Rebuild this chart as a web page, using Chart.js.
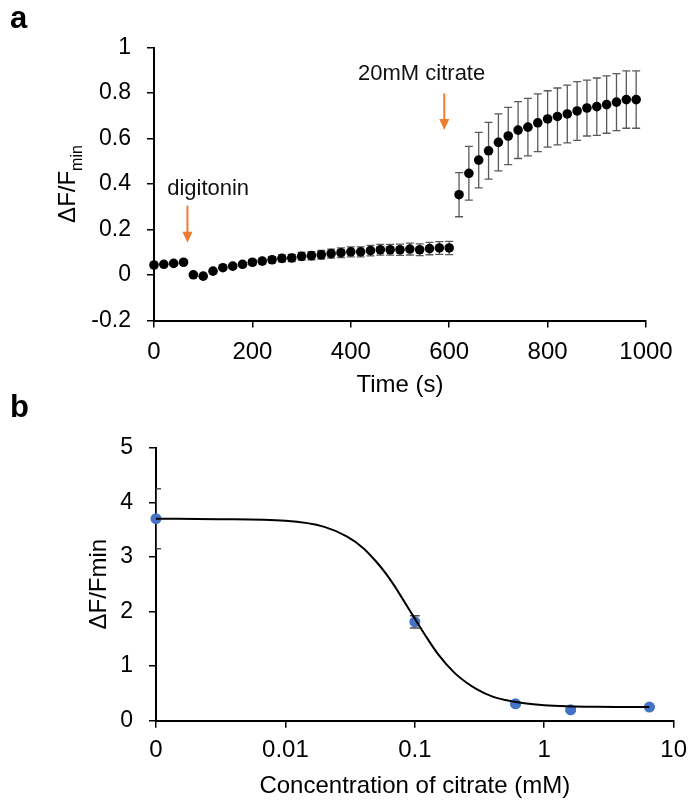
<!DOCTYPE html>
<html>
<head>
<meta charset="utf-8">
<script src="https://cdn.jsdelivr.net/npm/chart.js@4.4.0/dist/chart.umd.min.js"></script>
<style>
html, body { margin: 0; padding: 0; background: #fff; }
#wrap { position: relative; width: 695px; height: 805px; }
canvas { position: absolute; left: 0; }
#chartA { top: 0; }
#chartB { top: 380px; }
</style>
</head>
<body>
<div id="wrap">
<canvas id="chartA" width="695" height="400"></canvas>
<canvas id="chartB" width="695" height="425"></canvas>
</div>
<script>
// panel a - time course
var timeA = [0, 20, 40, 60, 80, 100, 120, 140, 160, 180, 200, 220, 240, 260, 280, 300, 320, 340, 360, 380,
    400, 420, 440, 460, 480, 500, 520, 540, 560, 580, 600,
    620, 640, 660, 680, 700, 720, 740, 760, 780, 800, 820, 840, 860, 880, 900, 920, 940, 960, 980];
var ratioA = [0.044, 0.047, 0.051, 0.056, 0.001, -0.005, 0.017, 0.032, 0.039, 0.047, 0.056, 0.061, 0.067, 0.073, 0.075, 0.082, 0.085, 0.089, 0.094, 0.098,
    0.102, 0.102, 0.107, 0.111, 0.111, 0.111, 0.114, 0.111, 0.116, 0.119, 0.119,
    0.353, 0.447, 0.505, 0.546, 0.583, 0.611, 0.637, 0.650, 0.669, 0.686, 0.697, 0.708, 0.721, 0.734, 0.740, 0.749, 0.760, 0.771, 0.771];
var errA = [0.005, 0.005, 0.005, 0.006, 0.006, 0.006, 0.007, 0.008, 0.009, 0.010, 0.011, 0.012, 0.013, 0.015, 0.016, 0.017, 0.018, 0.019, 0.020, 0.021,
    0.022, 0.022, 0.023, 0.024, 0.024, 0.025, 0.026, 0.026, 0.027, 0.028, 0.029,
    0.097, 0.118, 0.122, 0.125, 0.125, 0.126, 0.125, 0.126, 0.127, 0.124, 0.125, 0.127, 0.129, 0.123, 0.126, 0.126, 0.125, 0.126, 0.126];
var timeTicksA = [0, 200, 400, 600, 800, 1000];
var ratioTicksA = [-0.2, 0, 0.2, 0.4, 0.6, 0.8, 1];

// panel b - dose response
var concB = [0.001, 0.1, 0.6, 1.6, 6.5];
var ratioB = [3.70, 1.81, 0.31, 0.20, 0.25];
var errB = [0.55, 0.11, 0.03, 0.03, 0.02];
var fitConcB = [0.001, 0.003, 0.01, 0.02, 0.03, 0.04, 0.05, 0.06, 0.07, 0.08, 0.1, 0.12, 0.15, 0.2, 0.25, 0.3, 0.4, 0.5, 0.7, 1, 1.5, 2.5, 4, 6.5];
var fitRatioB = [3.70, 3.69, 3.66, 3.55, 3.37, 3.16, 2.92, 2.69, 2.46, 2.24, 1.87, 1.57, 1.23, 0.89, 0.70, 0.58, 0.44, 0.38, 0.32, 0.284, 0.265, 0.255, 0.252, 0.25];
var concTicksB = [0.001, 0.01, 0.1, 1, 10];
var concTickLabelsB = ['0', '0.01', '0.1', '1', '10'];
var ratioTicksB = [0, 1, 2, 3, 4, 5];

// arrows on panel a, in data coordinates
var arrowNotes = [
    { text: 'digitonin', x: 68, from: 0.305, to: 0.142, labelX: 110, labelY: 0.352 },
    { text: '20mM citrate', x: 590, from: 0.798, to: 0.637, labelX: 544, labelY: 0.857 }
];

var FONT = '"Liberation Sans", Arial, sans-serif';
Chart.defaults.font.family = FONT;
Chart.defaults.color = '#000';

function toPoints(xs, ys) {
    return xs.map(function (x, i) { return { x: x, y: ys[i] }; });
}
function fixedTicks(values) {
    return function (scale) {
        scale.ticks = values.map(function (v) { return { value: v }; });
    };
}

var errorBarPlugin = {
    id: 'errorBars',
    beforeDatasetsDraw: function (chart, args, opts) {
        var ctx = chart.ctx, yScale = chart.scales.y, area = chart.chartArea;
        chart.data.datasets.forEach(function (ds, i) {
            if (!ds.errors) return;
            var meta = chart.getDatasetMeta(i);
            ctx.save();
            if (opts.clip) {
                ctx.beginPath();
                ctx.rect(area.left, area.top, area.right - area.left, area.bottom - area.top);
                ctx.clip();
            }
            ctx.strokeStyle = opts.color;
            ctx.lineWidth = opts.width;
            meta.data.forEach(function (pt, j) {
                var v = ds.data[j].y, e = ds.errors[j];
                var y1 = yScale.getPixelForValue(v + e), y2 = yScale.getPixelForValue(v - e);
                ctx.beginPath();
                ctx.moveTo(pt.x, y1); ctx.lineTo(pt.x, y2);
                ctx.moveTo(pt.x - opts.cap, y1); ctx.lineTo(pt.x + opts.cap, y1);
                ctx.moveTo(pt.x - opts.cap, y2); ctx.lineTo(pt.x + opts.cap, y2);
                ctx.stroke();
            });
            ctx.restore();
        });
    }
};

var panelTagPlugin = {
    id: 'panelTag',
    afterDraw: function (chart, args, opts) {
        var ctx = chart.ctx;
        ctx.save();
        ctx.font = 'bold 31px ' + FONT;
        ctx.fillStyle = '#000';
        ctx.textBaseline = 'alphabetic';
        ctx.fillText(opts.text, 10, opts.y);
        ctx.restore();
    }
};

var notesPlugin = {
    id: 'notes',
    afterDatasetsDraw: function (chart) {
        var ctx = chart.ctx, xs = chart.scales.x, ys = chart.scales.y, area = chart.chartArea;
        ctx.save();
        arrowNotes.forEach(function (n) {
            var x = xs.getPixelForValue(n.x);
            var y1 = ys.getPixelForValue(n.from), y2 = ys.getPixelForValue(n.to);
            ctx.strokeStyle = '#ED7D31';
            ctx.fillStyle = '#ED7D31';
            ctx.lineWidth = 2;
            ctx.beginPath();
            ctx.moveTo(x, y1); ctx.lineTo(x, y2 - 10);
            ctx.stroke();
            ctx.beginPath();
            ctx.moveTo(x - 5, y2 - 11); ctx.lineTo(x + 5, y2 - 11); ctx.lineTo(x, y2);
            ctx.closePath();
            ctx.fill();
            ctx.fillStyle = '#111';
            ctx.font = '22px ' + FONT;
            ctx.textAlign = 'center';
            ctx.textBaseline = 'alphabetic';
            ctx.fillText(n.text, xs.getPixelForValue(n.labelX), ys.getPixelForValue(n.labelY));
        });
        // y axis title with subscript
        ctx.fillStyle = '#000';
        ctx.translate(area.left - 79, (area.top + area.bottom) / 2);
        ctx.rotate(-Math.PI / 2);
        ctx.textAlign = 'left';
        ctx.textBaseline = 'alphabetic';
        ctx.font = '24px ' + FONT;
        var w1 = ctx.measureText('ΔF/F').width;
        ctx.font = '16px ' + FONT;
        var w2 = ctx.measureText('min').width;
        var start = -(w1 + w2) / 2;
        ctx.font = '24px ' + FONT;
        ctx.fillText('ΔF/F', start, 0);
        ctx.font = '16px ' + FONT;
        ctx.fillText('min', start + w1, 7);
        ctx.restore();
    }
};

var axisGrid = { drawOnChartArea: false, drawTicks: true, tickLength: 7, color: '#000', lineWidth: 1.5 };
var axisBorder = { display: true, color: '#000', width: 2 };

new Chart(document.getElementById('chartA'), {
    type: 'scatter',
    data: {
        datasets: [{
            data: toPoints(timeA, ratioA),
            errors: errA,
            backgroundColor: '#000',
            borderWidth: 0,
            pointRadius: 4.8,
            clip: false
        }]
    },
    options: {
        responsive: false,
        animation: false,
        layout: { padding: { left: 0, top: 47.5, right: 49, bottom: 0 } },
        plugins: {
            legend: { display: false },
            tooltip: { enabled: false },
            errorBars: { color: '#595959', width: 1.3, cap: 4, clip: false },
            panelTag: { text: 'a', y: 28 }
        },
        scales: {
            x: {
                type: 'linear', min: 0, max: 1000,
                afterBuildTicks: fixedTicks(timeTicksA),
                afterFit: function (s) { s.height = 79.5; },
                grid: axisGrid, border: axisBorder,
                ticks: { font: { size: 24 }, padding: 10, maxRotation: 0,
                    callback: function (v) { return String(v); } },
                title: { display: true, text: 'Time (s)', font: { size: 24 }, padding: { top: 0, bottom: 0 } }
            },
            y: {
                type: 'linear', min: -0.2, max: 1,
                afterBuildTicks: fixedTicks(ratioTicksA),
                afterFit: function (s) { s.width = 154; },
                grid: axisGrid, border: axisBorder,
                ticks: { font: { size: 23 }, padding: 16, callback: function (v) { return String(Math.round(v * 10) / 10); } }
            }
        }
    },
    plugins: [errorBarPlugin, notesPlugin, panelTagPlugin]
});

new Chart(document.getElementById('chartB'), {
    type: 'scatter',
    data: {
        datasets: [{
            type: 'line',
            data: toPoints(fitConcB, fitRatioB),
            borderColor: '#000',
            borderWidth: 2,
            pointRadius: 0,
            fill: false,
            cubicInterpolationMode: 'monotone'
        }, {
            data: toPoints(concB, ratioB),
            errors: errB,
            backgroundColor: '#4472C4',
            borderWidth: 0,
            pointRadius: 5.5,
            clip: false
        }]
    },
    options: {
        responsive: false,
        animation: false,
        layout: { padding: { left: 0, top: 67.7, right: 19.3, bottom: 0 } },
        plugins: {
            legend: { display: false },
            tooltip: { enabled: false },
            errorBars: { color: '#4d4d4d', width: 1.5, cap: 5, clip: true },
            panelTag: { text: 'b', y: 36.5 }
        },
        scales: {
            x: {
                type: 'logarithmic', min: 0.001, max: 10,
                afterBuildTicks: fixedTicks(concTicksB),
                afterFit: function (s) { s.height = 84.3; },
                grid: axisGrid, border: axisBorder,
                ticks: { font: { size: 24 }, padding: 8, maxRotation: 0, autoSkip: false,
                    callback: function (v, i) { return concTickLabelsB[i]; } },
                title: { display: true, text: 'Concentration of citrate (mM)', font: { size: 24 }, padding: { top: 0, bottom: 4 } }
            },
            y: {
                type: 'linear', min: 0, max: 5,
                afterBuildTicks: fixedTicks(ratioTicksB),
                afterFit: function (s) { s.width = 156; },
                grid: axisGrid, border: axisBorder,
                ticks: { font: { size: 23 }, padding: 16 },
                title: { display: true, text: 'ΔF/Fmin', font: { size: 24 }, padding: { top: 85, bottom: 0 } }
            }
        }
    },
    plugins: [errorBarPlugin, panelTagPlugin]
});
</script>
</body>
</html>
